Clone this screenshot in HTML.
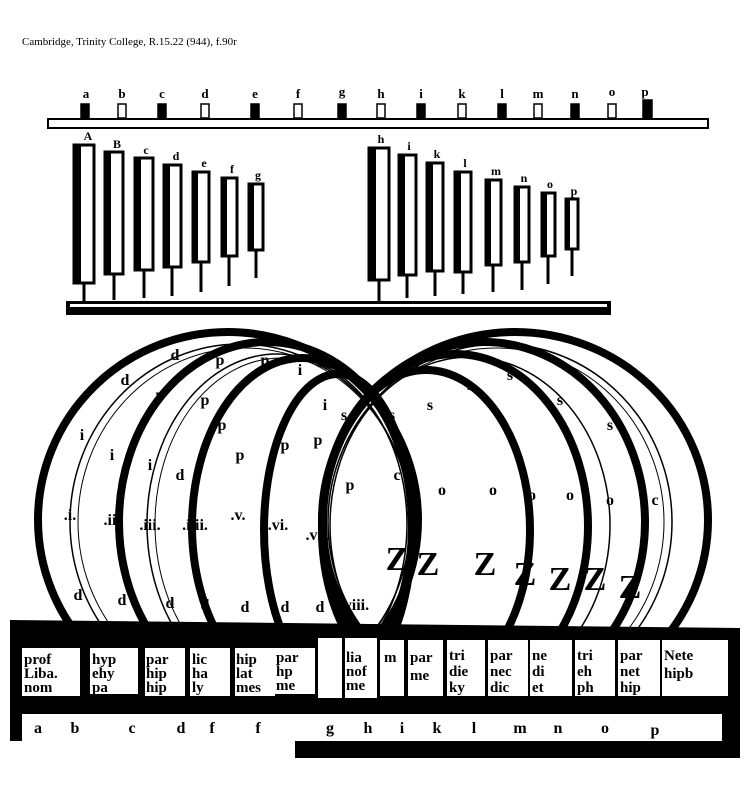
<!DOCTYPE html>
<html><head><meta charset="utf-8"><style>
body{margin:0;background:#fff;width:756px;height:792px;overflow:hidden}
svg{display:block}
text{font-family:"Liberation Serif",serif}
</style></head><body>
<svg width="756" height="792" viewBox="0 0 756 792" xmlns="http://www.w3.org/2000/svg">
<rect width="756" height="792" fill="#fff"/>
<text x="22" y="45" font-size="11" fill="#000">Cambridge, Trinity College, R.15.22 (944), f.90r</text>

<!-- top bar -->
<rect x="48" y="119" width="660" height="9" fill="#fff" stroke="#000" stroke-width="2"/>
<g font-size="13" font-weight="bold" text-anchor="middle">
<text x="86" y="98">a</text><text x="122" y="98">b</text><text x="162" y="98">c</text><text x="205" y="98">d</text><text x="255" y="98">e</text><text x="298" y="98">f</text><text x="342" y="96">g</text><text x="381" y="98">h</text><text x="421" y="98">i</text><text x="462" y="98">k</text><text x="502" y="98">l</text><text x="538" y="98">m</text><text x="575" y="98">n</text><text x="612" y="96">o</text><text x="645" y="96">p</text>
</g>
<g stroke="#000" stroke-width="1.5">
<rect x="81" y="104" width="8" height="14" fill="#000"/><rect x="118" y="104" width="8" height="14" fill="#fff"/><rect x="158" y="104" width="8" height="14" fill="#000"/><rect x="201" y="104" width="8" height="14" fill="#fff"/><rect x="251" y="104" width="8" height="14" fill="#000"/><rect x="294" y="104" width="8" height="14" fill="#fff"/><rect x="338" y="104" width="8" height="14" fill="#000"/><rect x="377" y="104" width="8" height="14" fill="#fff"/><rect x="417" y="104" width="8" height="14" fill="#000"/><rect x="458" y="104" width="8" height="14" fill="#fff"/><rect x="498" y="104" width="8" height="14" fill="#000"/><rect x="534" y="104" width="8" height="14" fill="#fff"/><rect x="571" y="104" width="8" height="14" fill="#000"/><rect x="608" y="104" width="8" height="14" fill="#fff"/><rect x="643" y="100" width="9" height="18" fill="#000"/>
</g>

<!-- pipes -->
<g stroke="#000" stroke-width="3" fill="#fff">
<rect x="74" y="145" width="20" height="138"/><rect x="105" y="152" width="18" height="122"/><rect x="135" y="158" width="18" height="112"/><rect x="164" y="165" width="17" height="102"/><rect x="193" y="172" width="16" height="90"/><rect x="222" y="178" width="15" height="78"/><rect x="249" y="184" width="14" height="66"/>
<rect x="369" y="148" width="20" height="132"/><rect x="399" y="155" width="17" height="120"/><rect x="427" y="163" width="16" height="108"/><rect x="455" y="172" width="16" height="100"/><rect x="486" y="180" width="15" height="85"/><rect x="515" y="187" width="14" height="75"/><rect x="542" y="193" width="13" height="63"/><rect x="566" y="199" width="12" height="50"/>
</g>
<g fill="#000">
<rect x="74" y="145" width="7" height="138"/><rect x="105" y="152" width="6" height="122"/><rect x="135" y="158" width="6" height="112"/><rect x="164" y="165" width="6" height="102"/><rect x="193" y="172" width="5" height="90"/><rect x="222" y="178" width="5" height="78"/><rect x="249" y="184" width="5" height="66"/>
<rect x="369" y="148" width="7" height="132"/><rect x="399" y="155" width="6" height="120"/><rect x="427" y="163" width="6" height="108"/><rect x="455" y="172" width="6" height="100"/><rect x="486" y="180" width="5" height="85"/><rect x="515" y="187" width="5" height="75"/><rect x="542" y="193" width="5" height="63"/><rect x="566" y="199" width="4" height="50"/>
</g>
<g stroke="#000" stroke-width="3">
<line x1="84" y1="283" x2="84" y2="302"/><line x1="114" y1="274" x2="114" y2="300"/><line x1="144" y1="270" x2="144" y2="298"/><line x1="172" y1="267" x2="172" y2="296"/><line x1="201" y1="262" x2="201" y2="292"/><line x1="229" y1="256" x2="229" y2="286"/><line x1="256" y1="250" x2="256" y2="278"/>
<line x1="379" y1="280" x2="379" y2="302"/><line x1="407" y1="275" x2="407" y2="298"/><line x1="435" y1="271" x2="435" y2="296"/><line x1="463" y1="272" x2="463" y2="294"/><line x1="493" y1="265" x2="493" y2="292"/><line x1="522" y1="262" x2="522" y2="290"/><line x1="548" y1="256" x2="548" y2="284"/><line x1="572" y1="249" x2="572" y2="276"/>
</g>
<g font-size="12" font-weight="bold" text-anchor="middle">
<text x="88" y="140">A</text><text x="117" y="148">B</text><text x="146" y="154">c</text><text x="176" y="160">d</text><text x="204" y="167">e</text><text x="232" y="173">f</text><text x="258" y="179">g</text>
<text x="381" y="143">h</text><text x="409" y="150">i</text><text x="437" y="158">k</text><text x="465" y="167">l</text><text x="496" y="175">m</text><text x="524" y="182">n</text><text x="550" y="188">o</text><text x="574" y="195">p</text>
</g>
<rect x="66" y="301" width="545" height="14" fill="#000"/>
<rect x="70" y="304" width="537" height="3" fill="#fff"/>

<!-- circles -->
<g fill="none" stroke="#000">
<ellipse cx="228" cy="520" rx="190" ry="188" stroke-width="8"/>
<ellipse cx="240" cy="522" rx="170" ry="178" stroke-width="1.5"/>
<ellipse cx="244" cy="522" rx="166" ry="174" stroke-width="1"/>
<ellipse cx="267" cy="522" rx="148" ry="180" stroke-width="8"/>
<ellipse cx="277" cy="524" rx="130" ry="170" stroke-width="1.5"/>
<ellipse cx="281" cy="524" rx="126" ry="166" stroke-width="1"/>
<ellipse cx="302" cy="526" rx="110" ry="168" stroke-width="8"/>
<ellipse cx="338" cy="530" rx="74" ry="156" stroke-width="8"/>

<ellipse cx="515" cy="520" rx="193" ry="188" stroke-width="8"/>
<ellipse cx="500" cy="522" rx="172" ry="178" stroke-width="1.5"/>
<ellipse cx="496" cy="522" rx="168" ry="174" stroke-width="1"/>
<ellipse cx="484" cy="522" rx="161" ry="180" stroke-width="8"/>
<ellipse cx="470" cy="525" rx="140" ry="168" stroke-width="1.5"/>
<ellipse cx="455" cy="526" rx="133" ry="172" stroke-width="8"/>
<ellipse cx="426" cy="530" rx="104" ry="160" stroke-width="8"/>
</g>
<g font-size="16" font-weight="bold" text-anchor="middle">
<text x="78" y="600">d</text><text x="70" y="520">.i.</text><text x="82" y="440">i</text><text x="125" y="385">d</text><text x="175" y="360">d</text>
<text x="122" y="605">d</text><text x="112" y="525">.ii.</text><text x="112" y="460">i</text><text x="160" y="400">p</text><text x="220" y="365">p</text>
<text x="170" y="608">d</text><text x="150" y="530">.iii.</text><text x="150" y="470">i</text><text x="205" y="405">p</text><text x="265" y="365">p</text>
<text x="205" y="610">d</text><text x="195" y="530">.iiii.</text><text x="180" y="480">d</text><text x="222" y="430">p</text><text x="300" y="375">i</text>
<text x="245" y="612">d</text><text x="238" y="520">.v.</text><text x="240" y="460">p</text>
<text x="285" y="612">d</text><text x="278" y="530">.vi.</text><text x="285" y="450">p</text><text x="325" y="410">i</text>
<text x="320" y="612">d</text><text x="318" y="540">.vii.</text><text x="318" y="445">p</text>
<text x="350" y="610">d.viii.</text><text x="350" y="490">p</text><text x="344" y="420">s</text>
<text x="392" y="420">s</text><text x="430" y="410">s</text><text x="470" y="390">s</text><text x="510" y="380">s</text><text x="560" y="405">s</text><text x="610" y="430">s</text>
<text x="397" y="480">c</text><text x="442" y="495">o</text><text x="493" y="495">o</text><text x="532" y="500">o</text><text x="570" y="500">o</text><text x="610" y="505">o</text><text x="655" y="505">c</text>
</g>
<g font-size="34" font-weight="bold" text-anchor="middle">
<text x="397" y="570">Z</text><text x="428" y="575">Z</text><text x="485" y="575">Z</text><text x="525" y="585">Z</text><text x="560" y="590">Z</text><text x="595" y="590">Z</text><text x="630" y="598">Z</text>
</g>

<!-- bottom table -->
<polygon points="10,620 740,628 740,700 10,700" fill="#000"/>
<g fill="#fff">
<rect x="22" y="648" width="58" height="48"/><rect x="90" y="648" width="48" height="46"/><rect x="145" y="648" width="40" height="48"/><rect x="190" y="648" width="40" height="48"/><rect x="235" y="648" width="40" height="48"/><rect x="275" y="648" width="40" height="46"/><rect x="318" y="638" width="24" height="60"/><rect x="345" y="638" width="32" height="60"/><rect x="380" y="640" width="24" height="56"/><rect x="408" y="640" width="35" height="56"/><rect x="447" y="640" width="38" height="56"/><rect x="488" y="640" width="40" height="56"/><rect x="530" y="640" width="42" height="56"/><rect x="575" y="640" width="40" height="56"/><rect x="618" y="640" width="42" height="56"/><rect x="662" y="640" width="66" height="56"/>
</g>
<g font-size="15" font-weight="bold" fill="#000">
<text x="24" y="664">prof</text><text x="24" y="678">Liba.</text><text x="24" y="692">nom</text>
<text x="92" y="664">hyp</text><text x="92" y="678">ehy</text><text x="92" y="692">pa</text>
<text x="146" y="664">par</text><text x="146" y="678">hip</text><text x="146" y="692">hip</text>
<text x="192" y="664">lic</text><text x="192" y="678">ha</text><text x="192" y="692">ly</text>
<text x="236" y="664">hip</text><text x="236" y="678">lat</text><text x="236" y="692">mes</text>
<text x="276" y="662">par</text><text x="276" y="676">hp</text><text x="276" y="690">me</text>
<text x="346" y="662">lia</text><text x="346" y="676">nof</text><text x="346" y="690">me</text>
<text x="384" y="662">m</text><text x="410" y="662">par</text><text x="410" y="680">me</text>
<text x="449" y="660">tri</text><text x="449" y="676">die</text><text x="449" y="692">ky</text>
<text x="490" y="660">par</text><text x="490" y="676">nec</text><text x="490" y="692">dic</text>
<text x="532" y="660">ne</text><text x="532" y="676">di</text><text x="532" y="692">et</text>
<text x="577" y="660">tri</text><text x="577" y="676">eh</text><text x="577" y="692">ph</text>
<text x="620" y="660">par</text><text x="620" y="676">net</text><text x="620" y="692">hip</text>
<text x="664" y="660">Nete</text><text x="664" y="678">hipb</text>
</g>
<rect x="10" y="700" width="730" height="58" fill="#000"/>
<rect x="22" y="714" width="700" height="27" fill="#fff"/>
<rect x="10" y="741" width="285" height="17" fill="#fff"/>
<g font-size="16" font-weight="bold" fill="#000" text-anchor="middle">
<text x="38" y="733">a</text><text x="75" y="733">b</text><text x="132" y="733">c</text><text x="181" y="733">d</text><text x="212" y="733">f</text><text x="258" y="733">f</text><text x="330" y="733">g</text><text x="368" y="733">h</text><text x="402" y="733">i</text><text x="437" y="733">k</text><text x="474" y="733">l</text><text x="520" y="733">m</text><text x="558" y="733">n</text><text x="605" y="733">o</text><text x="655" y="735">p</text>
</g>
</svg>
</body></html>
